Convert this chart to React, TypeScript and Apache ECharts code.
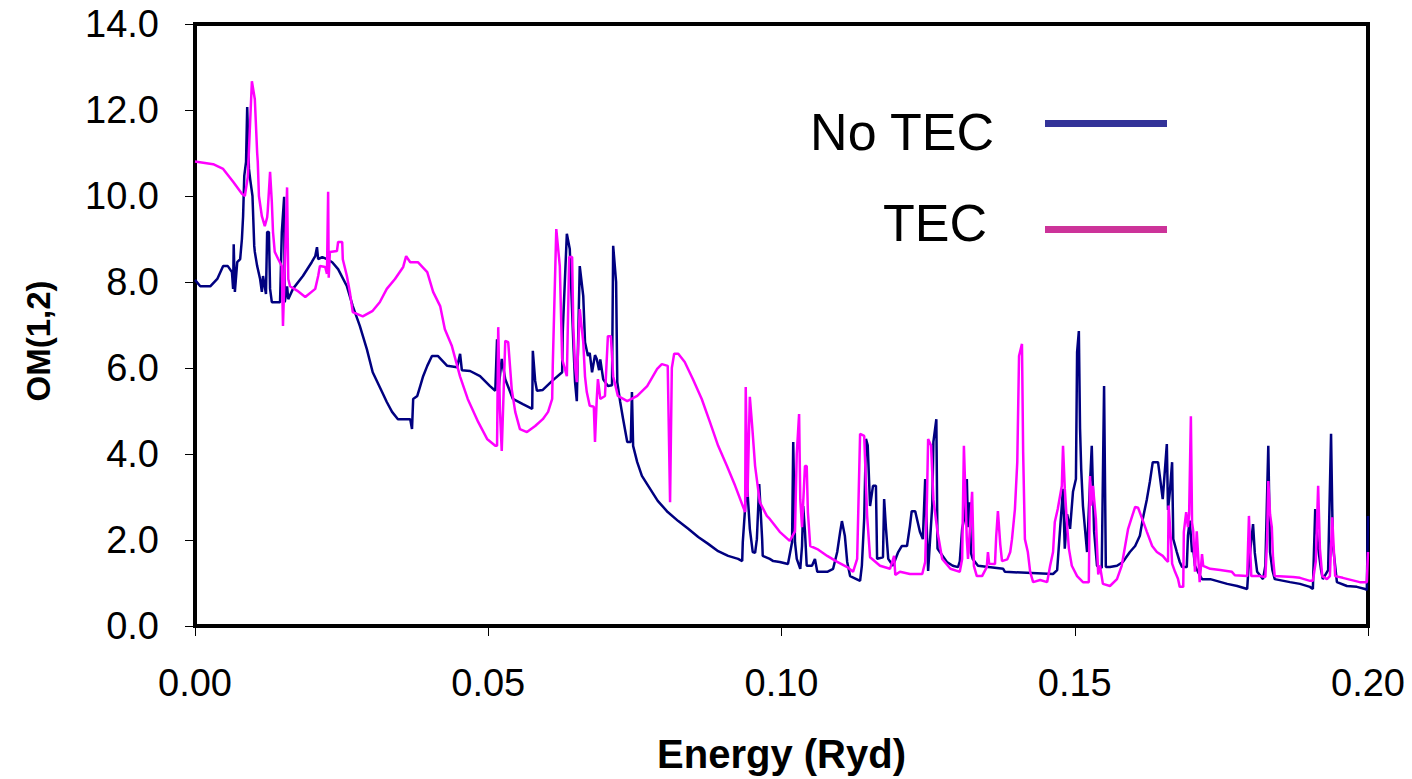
import React, { useEffect, useRef } from "react";
import * as echarts from "echarts";

const seriesNames = ["No TEC", "TEC"];
const xTicks = [0, 0.05, 0.1, 0.15, 0.2];
const yTicks = [0, 2, 4, 6, 8, 10, 12, 14];
const yTitle = "OM(1,2)";
const xTitle = "Energy (Ryd)";

// OM(1,2) without target-electron-correlation (No TEC): [Energy (Ryd), OM]
const noTec: [number, number][] = [
  [0.0, 8.05], [0.0009, 7.9], [0.0026, 7.9], [0.0038, 8.07], [0.0048, 8.37], [0.0056, 8.37],
  [0.0063, 8.23], [0.0065, 7.84], [0.0066, 8.88], [0.0068, 7.77], [0.0072, 8.46], [0.0077, 8.53],
  [0.008, 9.0], [0.0082, 9.53], [0.0084, 10.47], [0.0087, 10.79], [0.0089, 12.07], [0.0092, 10.63],
  [0.0094, 10.4], [0.0098, 10.0], [0.0101, 8.84], [0.0102, 8.7], [0.0106, 8.37], [0.0111, 8.07],
  [0.0114, 7.77], [0.0116, 8.14], [0.0121, 7.72], [0.0123, 9.16], [0.0126, 9.16], [0.0128, 7.84],
  [0.0131, 7.53], [0.0145, 7.53], [0.0148, 9.16], [0.0152, 9.98], [0.0153, 7.53], [0.0157, 7.9],
  [0.0159, 7.6], [0.0167, 7.84], [0.0184, 8.14], [0.0199, 8.46], [0.0205, 8.6], [0.0208, 8.81],
  [0.021, 8.53], [0.0217, 8.58], [0.0225, 8.53], [0.0234, 8.46], [0.0244, 8.3], [0.0259, 7.9],
  [0.0269, 7.44], [0.0281, 6.98], [0.0293, 6.44], [0.0303, 5.9], [0.0319, 5.44], [0.0327, 5.21],
  [0.0336, 4.98], [0.0346, 4.81], [0.0367, 4.81], [0.037, 4.58], [0.0372, 5.28], [0.0379, 5.35],
  [0.0384, 5.58], [0.0389, 5.81], [0.0396, 6.05], [0.0404, 6.28], [0.0414, 6.28], [0.043, 6.05],
  [0.0447, 6.02], [0.0452, 6.33], [0.0455, 5.95], [0.0469, 5.93], [0.0486, 5.81], [0.0503, 5.58],
  [0.0512, 5.47], [0.0515, 6.67], [0.0517, 5.44], [0.0523, 6.21], [0.0529, 5.74], [0.0542, 5.28],
  [0.0559, 5.16], [0.0575, 5.05], [0.0576, 6.4], [0.058, 5.7], [0.0583, 5.47], [0.0593, 5.49],
  [0.0609, 5.7], [0.0626, 5.9], [0.0627, 6.84], [0.0634, 9.12], [0.0639, 8.77], [0.0645, 6.6],
  [0.0648, 5.67], [0.0651, 5.23], [0.0656, 8.37], [0.0662, 7.67], [0.0665, 6.6], [0.067, 6.28],
  [0.0673, 6.35], [0.0677, 5.9], [0.0682, 6.3], [0.0685, 6.21], [0.0689, 5.95], [0.0691, 6.2],
  [0.0696, 5.74], [0.0704, 5.58], [0.0711, 5.6], [0.0713, 8.84], [0.0718, 8.0], [0.072, 5.67],
  [0.0725, 5.21], [0.073, 4.81], [0.0737, 4.28], [0.0743, 4.28], [0.0745, 5.44], [0.0747, 4.19],
  [0.0754, 3.81], [0.0762, 3.49], [0.0776, 3.19], [0.0789, 2.91], [0.0806, 2.65], [0.0824, 2.44],
  [0.0841, 2.26], [0.0858, 2.07], [0.0875, 1.91], [0.0892, 1.74], [0.0909, 1.63], [0.0926, 1.56],
  [0.0933, 1.51], [0.0934, 1.95], [0.0941, 3.35], [0.0946, 2.26], [0.0951, 1.72], [0.0955, 1.7],
  [0.0958, 2.02], [0.0962, 3.3], [0.0967, 2.02], [0.0968, 1.63], [0.098, 1.56], [0.0986, 1.51],
  [0.0997, 1.49], [0.1011, 1.44], [0.1018, 1.95], [0.102, 4.28], [0.1023, 1.95], [0.1026, 1.56],
  [0.1032, 1.33], [0.1035, 1.86], [0.1037, 2.79], [0.104, 2.2], [0.1043, 1.4], [0.1052, 1.4],
  [0.1057, 1.56], [0.1061, 1.26], [0.1078, 1.26], [0.1088, 1.33], [0.1095, 1.72], [0.11, 2.19],
  [0.1103, 2.44], [0.1108, 2.1], [0.1112, 1.49], [0.1117, 1.16], [0.1134, 1.05], [0.1137, 1.4],
  [0.1141, 2.5], [0.1144, 4.35], [0.1147, 4.2], [0.1151, 2.79], [0.1156, 3.26], [0.1161, 3.26],
  [0.1163, 1.56], [0.1173, 1.6], [0.1175, 2.95], [0.1178, 2.3], [0.1182, 1.56], [0.119, 1.4],
  [0.1199, 1.72], [0.1205, 1.86], [0.1214, 1.86], [0.1219, 2.33], [0.1222, 2.67], [0.1228, 2.67],
  [0.1231, 2.49], [0.1236, 2.19], [0.1241, 2.02], [0.1245, 3.42], [0.125, 1.28], [0.1257, 2.8],
  [0.1259, 4.28], [0.1264, 4.81], [0.1266, 1.8], [0.127, 1.72], [0.1282, 1.49], [0.1292, 1.4],
  [0.1301, 1.37], [0.1304, 1.5], [0.1308, 2.26], [0.1313, 2.6], [0.1316, 3.42], [0.1318, 2.3],
  [0.1321, 2.88], [0.1323, 1.7], [0.1326, 1.56], [0.1335, 1.4], [0.1378, 1.33], [0.1381, 1.26],
  [0.1463, 1.21], [0.147, 1.3], [0.1475, 2.26], [0.148, 3.19], [0.1483, 1.8], [0.1487, 2.6],
  [0.1492, 2.26], [0.1497, 3.12], [0.1502, 3.42], [0.1504, 6.37], [0.1507, 6.86], [0.1509, 4.6],
  [0.1511, 3.65], [0.1514, 2.79], [0.1521, 1.72], [0.1524, 2.7], [0.1529, 4.19], [0.1533, 2.2],
  [0.1538, 1.4], [0.1546, 1.35], [0.155, 5.58], [0.1553, 1.37], [0.156, 1.37], [0.1572, 1.4],
  [0.1582, 1.49], [0.1594, 1.72], [0.1603, 1.86], [0.1611, 2.1], [0.1616, 2.49], [0.1623, 2.95],
  [0.1628, 3.35], [0.1633, 3.81], [0.1642, 3.81], [0.1645, 3.49], [0.165, 2.95], [0.1657, 4.23],
  [0.1659, 2.7], [0.1662, 3.1], [0.1666, 3.81], [0.1668, 2.02], [0.1674, 1.72], [0.1679, 1.49],
  [0.1683, 1.37], [0.1691, 1.37], [0.1693, 2.1], [0.1696, 2.45], [0.17, 1.72], [0.1702, 1.79],
  [0.1705, 1.4], [0.171, 1.26], [0.1717, 1.09], [0.1731, 1.09], [0.176, 0.98], [0.1777, 0.93],
  [0.1794, 0.86], [0.1796, 1.3], [0.1799, 1.72], [0.1804, 2.37], [0.1807, 1.7], [0.1811, 1.26],
  [0.1821, 1.09], [0.1825, 1.4], [0.183, 4.19], [0.1833, 1.72], [0.1837, 1.3], [0.1841, 1.09],
  [0.1867, 1.02], [0.1884, 0.98], [0.1901, 0.91], [0.1906, 0.86], [0.191, 2.72], [0.1915, 1.81],
  [0.192, 1.3], [0.1923, 1.09], [0.1932, 1.3], [0.1937, 4.47], [0.194, 1.9], [0.1944, 1.4],
  [0.1947, 1.02], [0.1964, 0.93], [0.1981, 0.91], [0.1995, 0.86], [0.1998, 0.84], [0.2, 2.56],
];

// OM(1,2) with target-electron-correlation (TEC): [Energy (Ryd), OM]
const tec: [number, number][] = [
  [0.0, 10.8], [0.0031, 10.74], [0.0048, 10.63], [0.0065, 10.33], [0.008, 10.05], [0.0085, 10.0],
  [0.009, 10.44], [0.0097, 12.67], [0.0102, 12.25], [0.0106, 11.0], [0.0107, 10.8], [0.0109, 10.0],
  [0.0114, 9.53], [0.0119, 9.3], [0.0123, 9.5], [0.0124, 9.65], [0.0128, 10.56], [0.0131, 9.86],
  [0.0133, 9.16], [0.0136, 8.7], [0.0142, 8.53], [0.0148, 8.37], [0.015, 6.98], [0.0153, 8.3],
  [0.0157, 10.2], [0.0159, 8.07], [0.0162, 7.9], [0.0174, 7.8], [0.0188, 7.65], [0.0205, 7.84],
  [0.021, 8.14], [0.0213, 8.37], [0.0222, 8.35], [0.0225, 8.19], [0.0227, 10.1], [0.0228, 8.1],
  [0.023, 8.7], [0.0242, 8.72], [0.0244, 8.93], [0.0251, 8.93], [0.0252, 8.53], [0.0259, 8.14],
  [0.0264, 7.77], [0.0269, 7.3], [0.0286, 7.2], [0.0303, 7.33], [0.0315, 7.53], [0.0327, 7.84],
  [0.0341, 8.07], [0.0355, 8.35], [0.036, 8.6], [0.0367, 8.46], [0.038, 8.46], [0.0396, 8.23],
  [0.0406, 7.77], [0.0418, 7.44], [0.0426, 6.9], [0.0438, 6.51], [0.0452, 5.8], [0.0465, 5.28],
  [0.0483, 4.74], [0.0498, 4.35], [0.0512, 4.19], [0.0515, 4.19], [0.0517, 6.95], [0.052, 5.0],
  [0.0523, 4.07], [0.0529, 6.63], [0.0534, 6.6], [0.054, 5.51], [0.0546, 4.98], [0.0554, 4.58],
  [0.0566, 4.51], [0.058, 4.65], [0.0593, 4.81], [0.0602, 4.98], [0.0609, 5.28], [0.061, 6.05],
  [0.0616, 9.23], [0.0622, 8.37], [0.0626, 6.21], [0.0634, 5.81], [0.0638, 8.58], [0.0643, 8.58],
  [0.0645, 6.98], [0.0648, 6.05], [0.0651, 5.67], [0.0656, 7.37], [0.0662, 6.6], [0.0665, 5.8],
  [0.0668, 5.44], [0.0673, 5.12], [0.068, 5.1], [0.0682, 4.28], [0.0685, 5.28], [0.0687, 5.74],
  [0.0691, 5.28], [0.0699, 5.35], [0.0704, 6.74], [0.0709, 6.74], [0.0713, 5.81], [0.0721, 5.35],
  [0.0737, 5.23], [0.0754, 5.35], [0.0771, 5.58], [0.0788, 5.98], [0.0796, 6.09], [0.0806, 6.05],
  [0.081, 2.88], [0.0813, 6.0], [0.0817, 6.33], [0.0824, 6.33], [0.0835, 6.14], [0.0849, 5.74],
  [0.0864, 5.28], [0.0878, 4.74], [0.0892, 4.19], [0.0907, 3.72], [0.0921, 3.26], [0.0934, 2.79],
  [0.0938, 2.65], [0.0939, 5.56], [0.0942, 3.0], [0.0946, 5.33], [0.095, 4.65], [0.0955, 3.72],
  [0.0963, 2.88], [0.0975, 2.56], [0.098, 2.49], [0.0997, 2.19], [0.1014, 1.98], [0.1023, 2.2],
  [0.1026, 4.0], [0.103, 4.93], [0.1032, 2.95], [0.1035, 2.3], [0.104, 3.72], [0.1043, 3.72],
  [0.1045, 2.65], [0.1049, 1.86], [0.1061, 1.79], [0.1078, 1.63], [0.1095, 1.49], [0.1112, 1.37],
  [0.1122, 1.26], [0.1129, 1.56], [0.1134, 4.47], [0.1141, 4.42], [0.1146, 2.56], [0.1151, 1.6],
  [0.1168, 1.4], [0.1185, 1.33], [0.1192, 1.63], [0.1194, 1.19], [0.1202, 1.26], [0.1219, 1.21],
  [0.124, 1.21], [0.1245, 1.49], [0.1248, 2.95], [0.125, 4.35], [0.1255, 4.2], [0.1259, 2.95],
  [0.1266, 2.19], [0.1274, 1.56], [0.1288, 1.33], [0.1304, 1.26], [0.1308, 1.56], [0.1311, 4.19],
  [0.1316, 2.0], [0.1318, 1.56], [0.1321, 2.2], [0.1325, 3.12], [0.1328, 1.4], [0.1333, 1.16],
  [0.1342, 1.16], [0.135, 1.37], [0.1352, 1.72], [0.1354, 1.45], [0.1364, 1.44], [0.1366, 2.07],
  [0.1369, 2.67], [0.1373, 1.9], [0.1376, 1.51], [0.1385, 1.55], [0.139, 1.72], [0.1393, 2.02],
  [0.1398, 2.72], [0.1402, 3.81], [0.1405, 6.28], [0.141, 6.56], [0.1412, 4.05], [0.1415, 2.02],
  [0.142, 1.72], [0.1424, 1.26], [0.1429, 1.02], [0.1441, 1.07], [0.1453, 1.02], [0.1458, 1.4],
  [0.1463, 1.72], [0.1466, 2.42], [0.1471, 2.72], [0.1478, 3.26], [0.148, 4.19], [0.1483, 3.2],
  [0.1487, 2.33], [0.149, 1.8], [0.1495, 1.4], [0.1504, 1.16], [0.1514, 1.02], [0.1524, 1.02],
  [0.1526, 3.49], [0.1528, 2.8], [0.1531, 3.26], [0.1536, 2.5], [0.154, 1.2], [0.1543, 1.4],
  [0.1548, 0.98], [0.156, 0.93], [0.1572, 1.09], [0.158, 1.4], [0.1585, 1.79], [0.1591, 2.26],
  [0.1598, 2.56], [0.1603, 2.77], [0.1608, 2.75], [0.1615, 2.49], [0.1623, 2.19], [0.1632, 1.86],
  [0.164, 1.72], [0.165, 1.63], [0.1655, 1.55], [0.1659, 1.49], [0.166, 2.8], [0.1664, 2.0],
  [0.1666, 1.45], [0.1671, 1.26], [0.1676, 1.1], [0.1679, 0.91], [0.1685, 0.91], [0.1686, 2.19],
  [0.169, 2.65], [0.1693, 2.3], [0.1695, 2.6], [0.1698, 4.88], [0.17, 2.4], [0.1702, 2.21],
  [0.1705, 1.26], [0.1708, 2.2], [0.1713, 1.02], [0.1717, 1.67], [0.1719, 1.4], [0.1731, 1.33],
  [0.1748, 1.3], [0.1768, 1.26], [0.1773, 1.18], [0.1794, 1.16], [0.1797, 2.56], [0.1801, 1.16],
  [0.1816, 1.16], [0.1825, 1.14], [0.1828, 2.0], [0.183, 3.37], [0.1833, 2.6], [0.1836, 2.3],
  [0.1838, 1.6], [0.1841, 1.16], [0.1872, 1.14], [0.1884, 1.12], [0.1901, 1.05], [0.1906, 1.05],
  [0.1911, 1.5], [0.1915, 3.26], [0.1918, 1.8], [0.1922, 1.16], [0.193, 1.09], [0.1935, 1.16],
  [0.1939, 2.53], [0.1942, 1.7], [0.1944, 1.16], [0.1957, 1.12], [0.1986, 1.02], [0.1998, 1.02],
  [0.2, 1.72],
];

const FONT = "'Liberation Sans', Arial, Helvetica, sans-serif";

export default function App() {
  const ref = useRef<HTMLDivElement>(null);

  useEffect(() => {
    if (!ref.current) return;
    const chart = echarts.init(ref.current, undefined, { renderer: "svg" });
    chart.setOption({
      animation: false,
      backgroundColor: "#ffffff",
      grid: {
        left: 195,
        right: 44,
        top: 24,
        bottom: 153,
        show: true,
        borderColor: "#000000",
        borderWidth: 4,
        backgroundColor: "transparent",
      },
      xAxis: {
        type: "value",
        min: xTicks[0],
        max: xTicks[xTicks.length - 1],
        interval: 0.05,
        name: xTitle,
        nameLocation: "middle",
        nameGap: 108,
        nameTextStyle: { fontSize: 40, fontWeight: "bold", color: "#000", fontFamily: FONT },
        axisLine: { show: false },
        axisTick: { show: true, length: 10, lineStyle: { color: "#000", width: 1 } },
        axisLabel: {
          fontSize: 38,
          color: "#000",
          fontFamily: FONT,
          margin: 38,
          formatter: (v: number) => v.toFixed(2),
        },
        splitLine: { show: false },
      },
      yAxis: {
        type: "value",
        min: yTicks[0],
        max: yTicks[yTicks.length - 1],
        interval: 2,
        axisLine: { show: false },
        axisTick: { show: true, length: 10, lineStyle: { color: "#000", width: 1 } },
        axisLabel: {
          fontSize: 38,
          color: "#000",
          fontFamily: FONT,
          margin: 36,
          formatter: (v: number) => v.toFixed(1),
        },
        splitLine: { show: false },
      },
      series: [
        {
          name: seriesNames[0],
          type: "line",
          data: noTec,
          showSymbol: false,
          symbol: "none",
          lineStyle: { color: "#000080", width: 2.5 },
          itemStyle: { color: "#000080" },
          z: 2,
        },
        {
          name: seriesNames[1],
          type: "line",
          data: tec,
          showSymbol: false,
          symbol: "none",
          lineStyle: { color: "#FF00FF", width: 2.5 },
          itemStyle: { color: "#FF00FF" },
          z: 3,
        },
      ],
      graphic: [
        {
          type: "text",
          x: 38,
          y: 341,
          rotation: Math.PI / 2,
          style: {
            text: yTitle,
            fill: "#000",
            font: `bold 33px ${FONT}`,
            align: "center",
            verticalAlign: "middle",
          },
        },
        {
          type: "text",
          right: 1412 - 995,
          top: 136 - 30,
          style: { text: seriesNames[0], fill: "#000", font: `52px ${FONT}` },
        },
        {
          type: "rect",
          shape: { x: 1045, y: 120, width: 122, height: 7 },
          style: { fill: "#333399" },
        },
        {
          type: "text",
          right: 1412 - 987,
          top: 227 - 30,
          style: { text: seriesNames[1], fill: "#000", font: `52px ${FONT}` },
        },
        {
          type: "rect",
          shape: { x: 1045, y: 226, width: 122, height: 7 },
          style: { fill: "#CC3399" },
        },
      ],
    });
    return () => chart.dispose();
  }, []);

  return (
    <div
      ref={ref}
      style={{ position: "fixed", left: 0, top: 0, width: 1412, height: 779, background: "#fff" }}
    />
  );
}
